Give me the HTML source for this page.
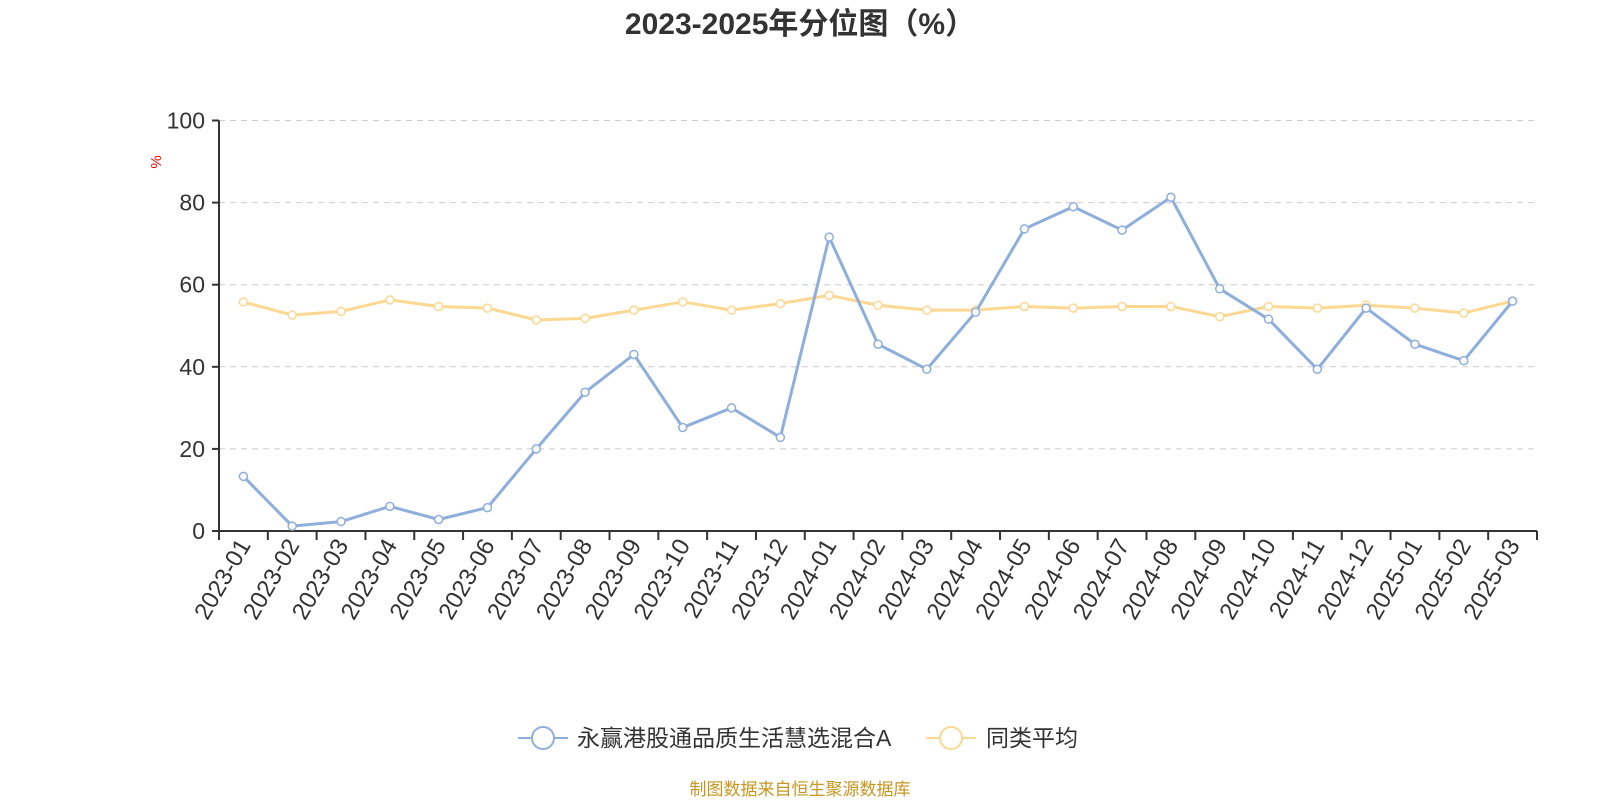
<!DOCTYPE html><html><head><meta charset="utf-8"><style>body{margin:0;background:#fff}svg{display:block}</style></head><body>
<svg id="s" width="1600" height="800" xmlns="http://www.w3.org/2000/svg" font-family="Liberation Sans, Noto Sans CJK SC, sans-serif">
<text x="800" y="34" text-anchor="middle" font-size="30" font-weight="bold" fill="#333">2023-2025年分位图（%）</text>
<text x="0" y="0" transform="translate(161,162) rotate(-90)" text-anchor="middle" font-size="15" fill="#f00">%</text>
<g id="g"></g>
<g>
<line x1="518" y1="738" x2="568" y2="738" stroke="#8eaedc" stroke-width="2"/><circle cx="543" cy="738" r="11" fill="#fff" stroke="#8eaedc" stroke-width="2"/>
<text x="577" y="746" font-size="23" fill="#333">永赢港股通品质生活慧选混合A</text>
<line x1="926" y1="738" x2="976" y2="738" stroke="#fdd892" stroke-width="2"/><circle cx="951" cy="738" r="11" fill="#fff" stroke="#fdd892" stroke-width="2"/>
<text x="986" y="746" font-size="23" fill="#333">同类平均</text>
</g>
<text x="800" y="795" text-anchor="middle" font-size="17" fill="#c8961e">制图数据来自恒生聚源数据库</text>
</svg>
<script>
var A=[13.3,1.2,2.3,6,2.8,5.7,20,33.8,43,25.2,30,22.8,71.6,45.5,39.4,53.3,73.6,79,73.3,81.3,59,51.6,39.4,54.3,45.5,41.5,56];
var B=[55.8,52.6,53.5,56.3,54.7,54.3,51.4,51.8,53.8,55.8,53.8,55.4,57.4,55,53.8,53.8,54.7,54.3,54.7,54.7,52.2,54.7,54.3,55,54.3,53.1,56];
var x0=219,x1=1537,y0=531,y1=120.5,n=27,bw=(x1-x0)/n,h='';
function Y(v){return y0-(y0-y1)*v/100}
for(var i=0;i<=5;i++){var y=Y(i*20);
 if(i>0)h+='<line x1="'+x0+'" x2="'+x1+'" y1="'+y+'" y2="'+y+'" stroke="#ccc" stroke-dasharray="6,5"/>';
 h+='<line x1="'+(x0-7)+'" x2="'+x0+'" y1="'+y+'" y2="'+y+'" stroke="#333" stroke-width="2"/>';
 h+='<text x="'+(x0-14)+'" y="'+(y+8)+'" text-anchor="end" font-size="23" fill="#333">'+(i*20)+'</text>';}
h+='<line x1="'+x0+'" x2="'+x0+'" y1="'+y1+'" y2="'+y0+'" stroke="#333" stroke-width="2"/>';
h+='<line x1="'+x0+'" x2="'+x1+'" y1="'+y0+'" y2="'+y0+'" stroke="#333" stroke-width="2"/>';
var L=[];for(var y=2023;y<=2025;y++)for(var m=1;m<=12;m++){if(y==2025&&m>3)break;L.push(y+'-'+(m<10?'0':'')+m);}
for(var i=0;i<=n;i++){var x=x0+i*bw;h+='<line x1="'+x+'" x2="'+x+'" y1="'+y0+'" y2="'+(y0+9)+'" stroke="#333" stroke-width="2"/>';}
for(var i=0;i<n;i++){var x=x0+(i+.5)*bw;h+='<text transform="translate('+(x+8)+','+(y0+14)+') rotate(-60)" text-anchor="end" font-size="24" fill="#333">'+L[i]+'</text>';}
function S(d,c){var p=d.map(function(v,i){return (x0+(i+.5)*bw)+','+Y(v)}).join(' ');
 var s='<polyline points="'+p+'" fill="none" stroke="'+c+'" stroke-width="3" stroke-linejoin="round"/>';
 d.forEach(function(v,i){s+='<circle cx="'+(x0+(i+.5)*bw)+'" cy="'+Y(v)+'" r="4" fill="#fff" stroke="'+c+'" stroke-width="1.5"/>'});return s;}
h+=S(B,'#fdd892')+S(A,'#8eaedc');
document.getElementById('g').innerHTML=h;
</script>
</body></html>
